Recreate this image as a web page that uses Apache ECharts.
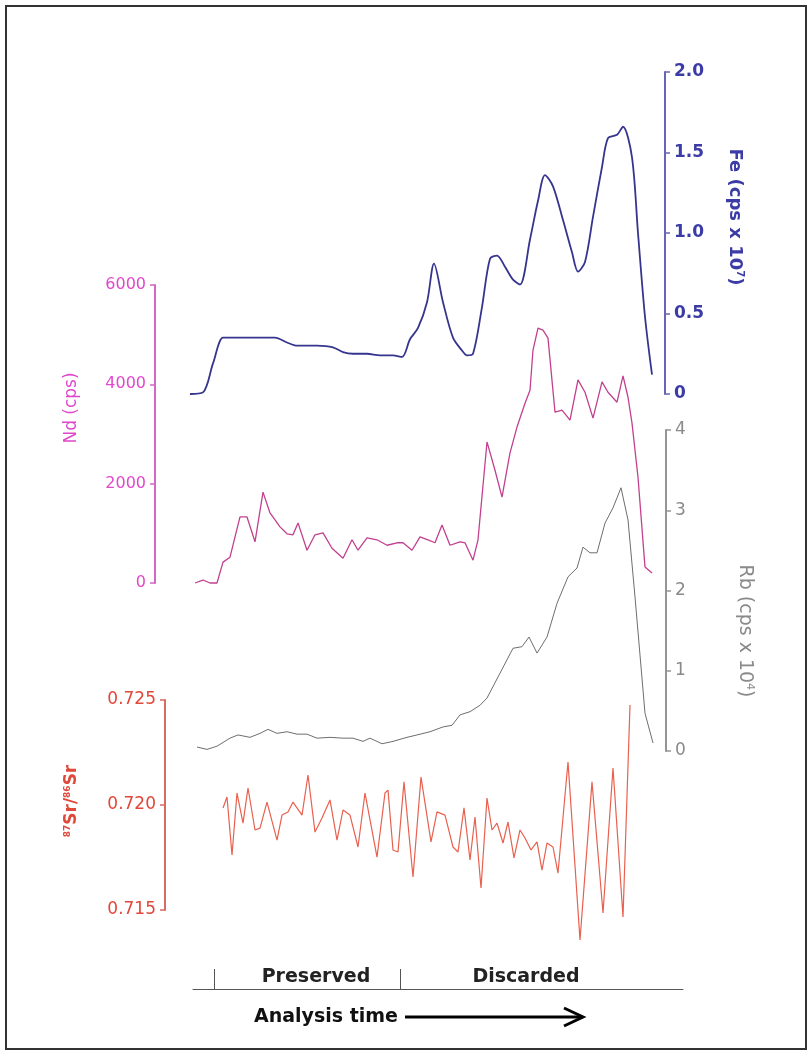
<!DOCTYPE html>
<html>
<head>
<meta charset="utf-8">
<script src="https://cdn.jsdelivr.net/npm/echarts@6/dist/echarts.min.js"></script>
<style>
  html, body { margin: 0; padding: 0; background: #fff; }
  #chart { width: 812px; height: 1055px; }
</style>
</head>
<body>
<div id="chart"></div>
<script>
// analysis time (s) vs signal
var feData = [
  [0, 0.0], [2.6, 0.01], [4.6, 0.19], [6.6, 0.35], [8, 0.35], [12, 0.35], [15.4, 0.35],
  [17, 0.35], [19.4, 0.32], [21.4, 0.30], [25.4, 0.30], [28.6, 0.29], [30.6, 0.26],
  [32.6, 0.25], [35.4, 0.25], [38, 0.24], [40.6, 0.24], [42.4, 0.23], [44, 0.34],
  [45.6, 0.41], [47.4, 0.57], [48.8, 0.81], [50.6, 0.57], [52.6, 0.35], [54.4, 0.27],
  [55.4, 0.24], [56.6, 0.25], [58.4, 0.54], [60, 0.84], [61.4, 0.86], [63, 0.79],
  [64.6, 0.71], [66, 0.68], [68, 0.96], [69.6, 1.20], [71, 1.36], [72.6, 1.29],
  [74.6, 1.08], [76.4, 0.88], [77.6, 0.76], [79, 0.82], [80.6, 1.10], [82.4, 1.41],
  [83.6, 1.59], [85.4, 1.61], [86.6, 1.66], [88.4, 1.47], [89.6, 1.00], [91, 0.48],
  [92.4, 0.12]
];
var ndData = [
  [1, 0], [2.6, 60], [4, 0], [5.4, 0], [6.6, 420], [8, 520], [10, 1330], [11.4, 1330],
  [13, 830], [14.6, 1830], [16, 1410], [18, 1130], [19.4, 990], [20.6, 970], [21.6, 1210],
  [23.4, 660], [25, 970], [26.6, 1010], [28.4, 700], [30.6, 500], [32.4, 870], [33.6, 660],
  [35.4, 910], [37.4, 870], [39.4, 760], [41.4, 810], [42.6, 810], [44.4, 660], [46, 930],
  [47.6, 870], [49, 810], [50.4, 1170], [52, 760], [54, 830], [55, 810], [56.6, 460],
  [57.6, 870], [59.4, 2840], [61, 2270], [62.4, 1730], [64, 2620], [65.4, 3140],
  [67, 3620], [68, 3880], [68.6, 4690], [69.6, 5130], [70.6, 5090], [71.6, 4930],
  [73, 3440], [74.4, 3480], [76, 3280], [77.6, 4090], [79, 3840], [80.6, 3320],
  [82.4, 4050], [83.6, 3840], [85.4, 3640], [86.6, 4170], [87.6, 3740], [88.4, 3220],
  [89.6, 2130], [91, 320], [92.4, 200]
];
var rbData = [
  [1.4, 0.05], [3.4, 0.02], [5.4, 0.06], [8, 0.16], [9.6, 0.20], [12, 0.17], [14, 0.22],
  [15.6, 0.27], [17.4, 0.22], [19.4, 0.24], [21.4, 0.21], [23.4, 0.21], [25.4, 0.16],
  [28, 0.17], [30.6, 0.16], [32.6, 0.16], [34.6, 0.12], [36, 0.16], [38.4, 0.09],
  [40.6, 0.12], [43.4, 0.17], [45.4, 0.20], [48, 0.24], [50.6, 0.30], [52.4, 0.32],
  [54, 0.45], [56, 0.49], [58, 0.57], [59.4, 0.66], [62, 0.97], [64.6, 1.28], [66.4, 1.30],
  [67.8, 1.42], [69.4, 1.22], [71.4, 1.42], [73.4, 1.84], [75.6, 2.17], [77.4, 2.28],
  [78.6, 2.54], [80, 2.47], [81.4, 2.47], [83, 2.84], [84.6, 3.03], [86.2, 3.28],
  [87.6, 2.88], [89, 1.92], [91, 0.47], [92.6, 0.10]
];
var srData = [
  [6.6, 0.71986], [7.4, 0.72038], [8.4, 0.71762], [9.4, 0.72057], [10.6, 0.71914],
  [11.6, 0.72081], [13, 0.71881], [14, 0.71890], [15.4, 0.72014], [17.4, 0.71833],
  [18.4, 0.71952], [19.6, 0.71967], [20.6, 0.72014], [22.4, 0.71952], [23.6, 0.72143],
  [25, 0.71871], [26.4, 0.71938], [28, 0.72024], [29.4, 0.71833], [30.6, 0.71976],
  [32, 0.71952], [33.6, 0.71800], [35, 0.72057], [37.4, 0.71752], [39, 0.72057],
  [39.6, 0.72071], [40.6, 0.71786], [41.6, 0.71776], [42.8, 0.72110], [44.6, 0.71657],
  [46.2, 0.72133], [48.2, 0.71824], [49.4, 0.71967], [51, 0.71952], [52.6, 0.71800],
  [53.6, 0.71776], [54.8, 0.71986], [56, 0.71738], [57, 0.71943], [58.2, 0.71605],
  [59.4, 0.72033], [60.4, 0.71881], [61.4, 0.71914], [62.6, 0.71819], [63.6, 0.71919],
  [64.8, 0.71748], [66, 0.71881], [67, 0.71843], [68.2, 0.71786], [69.4, 0.71824],
  [70.4, 0.71690], [71.4, 0.71819], [72.6, 0.71800], [73.6, 0.71676], [75.6, 0.72205],
  [78, 0.71357], [80.4, 0.72110], [82.6, 0.71486], [84.6, 0.72176], [86.6, 0.71467],
  [88, 0.72476]
];
var phaseBounds = [4.8, 42];
var phaseNames = ['Preserved', 'Discarded'];

var FONT = "'DejaVu Sans', sans-serif";
var tMax = 93;

function hiddenX(idx) {
  return { type: 'value', gridIndex: idx, min: 0, max: tMax, show: false };
}

function yAx(idx, pos, offset, min, max, step, color, lineColor, bold, size, digits) {
  return {
    type: 'value', gridIndex: idx, position: pos, offset: offset,
    min: min, max: max, interval: step,
    splitLine: { show: false },
    axisLine: { show: true, onZero: false, lineStyle: { color: lineColor, width: 2 } },
    axisTick: { show: true, length: 5, lineStyle: { color: lineColor, width: 1.5 } },
    axisLabel: {
      color: color, fontFamily: FONT, fontSize: size, margin: 9,
      fontWeight: bold ? 'bold' : 'normal',
      formatter: function (v) { return v === 0 ? '0' : v.toFixed(digits); }
    }
  };
}

function lineSeries(idx, data, color, width, smooth) {
  return {
    type: 'line', xAxisIndex: idx, yAxisIndex: idx, data: data,
    showSymbol: false, clip: false, silent: true, smooth: smooth || false,
    lineStyle: { color: color, width: width }
  };
}

var chart = echarts.init(document.getElementById('chart'));
chart.setOption({
  animation: false,
  backgroundColor: '#fff',
  grid: [
    { left: 190, right: 157, top: 72, height: 322 },   // Fe
    { left: 190, right: 157, top: 285, height: 298 },  // Nd
    { left: 190, right: 157, top: 430, height: 321 },  // Rb
    { left: 190, right: 157, top: 700, height: 210 },  // Sr
    { left: 193, right: 129, top: 969, height: 20 }    // time bar
  ],
  xAxis: [
    hiddenX(0), hiddenX(1), hiddenX(2), hiddenX(3),
    {
      type: 'value', gridIndex: 4, min: 0.6, max: 98.6,
      axisLine: { show: true, onZero: false, lineStyle: { color: '#555', width: 1 } },
      axisTick: { show: false }, axisLabel: { show: false }, splitLine: { show: false }
    }
  ],
  yAxis: [
    yAx(0, 'right', 10, 0, 2, 0.5, '#3c3ca6', '#6666b4', true, 17, 1),
    yAx(1, 'left', 35, 0, 6000, 2000, '#e048cc', '#d068c4', false, 16, 0),
    yAx(2, 'right', 11, 0, 4, 1, '#8a8a8a', '#959595', false, 17, 0),
    yAx(3, 'left', 25, 0.715, 0.725, 0.005, '#e0483a', '#d86a64', false, 17, 3),
    { type: 'value', gridIndex: 4, min: 0, max: 1, show: false }
  ],
  series: [
    lineSeries(0, feData, '#35358e', 1.8, 0.3),
    lineSeries(1, ndData, '#c2408e', 1.3),
    lineSeries(2, rbData, '#6e6e6e', 1),
    lineSeries(3, srData, '#e8604e', 1.2),
    {
      type: 'line', xAxisIndex: 4, yAxisIndex: 4,
      data: phaseBounds.map(function (b) { return [b, 0]; }),
      showSymbol: false, lineStyle: { width: 0 }, silent: true,
      markLine: {
        silent: true, symbol: ['none', 'none'], label: { show: false },
        lineStyle: { color: '#555', width: 1, type: 'solid' },
        data: phaseBounds.map(function (b) {
          return [{ coord: [b, 0] }, { coord: [b, 1] }];
        })
      }
    }
  ],
  graphic: [
    { type: 'rect', shape: { x: 6, y: 6, width: 800, height: 1043 },
      style: { fill: 'none', stroke: '#333', lineWidth: 2 } },
    { type: 'text', x: 735, y: 217, rotation: -Math.PI / 2,
      style: { text: 'Fe (cps x 10{s|7})', fill: '#3c3ca6', font: 'bold 18px ' + FONT,
        align: 'center', verticalAlign: 'middle',
        rich: { s: { fontSize: 10, fontWeight: 'bold', fill: '#3c3ca6', padding: [0, 0, 9, 0], fontFamily: FONT } } } },
    { type: 'text', x: 72, y: 408, rotation: Math.PI / 2,
      style: { text: 'Nd (cps)', fill: '#e048cc', font: '17px ' + FONT,
        align: 'center', verticalAlign: 'middle' } },
    { type: 'text', x: 745, y: 631, rotation: -Math.PI / 2,
      style: { text: 'Rb (cps x 10{s|4})', fill: '#8a8a8a', font: '19px ' + FONT,
        align: 'center', verticalAlign: 'middle',
        rich: { s: { fontSize: 11, fill: '#8a8a8a', padding: [0, 0, 9, 0], fontFamily: FONT } } } },
    { type: 'text', x: 72, y: 801, rotation: Math.PI / 2,
      style: { text: '{s|87}Sr/{s|86}Sr', fill: '#e0483a', font: 'bold 17px ' + FONT,
        align: 'center', verticalAlign: 'middle',
        rich: { s: { fontSize: 9, fontWeight: 'bold', fill: '#e0483a', padding: [0, 0, 9, 0], fontFamily: FONT } } } },
    { type: 'text', x: 316, y: 977,
      style: { text: phaseNames[0], fill: '#222', font: 'bold 19px ' + FONT, align: 'center', verticalAlign: 'middle' } },
    { type: 'text', x: 526, y: 977,
      style: { text: phaseNames[1], fill: '#222', font: 'bold 19px ' + FONT, align: 'center', verticalAlign: 'middle' } },
    { type: 'text', x: 326, y: 1017,
      style: { text: 'Analysis time', fill: '#111', font: 'bold 19px ' + FONT, align: 'center', verticalAlign: 'middle' } },
    { type: 'line', shape: { x1: 405, y1: 1017, x2: 581, y2: 1017 },
      style: { stroke: '#000', lineWidth: 3 } },
    { type: 'polyline', shape: { points: [[564, 1008], [583, 1017], [564, 1026]] },
      style: { stroke: '#000', lineWidth: 3, fill: 'none' } }
  ]
});
</script>
</body>
</html>
